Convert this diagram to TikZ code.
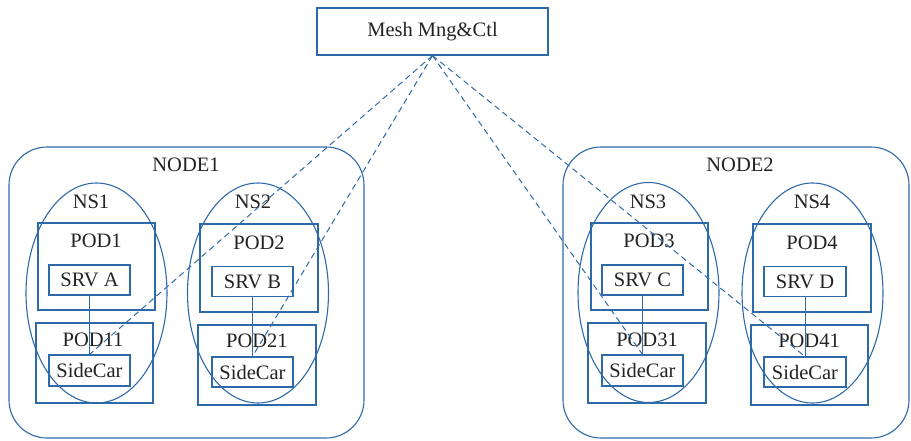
\documentclass[tikz,border=0pt]{standalone}
\usepackage{fontspec}
\setmainfont{Liberation Serif}
\usetikzlibrary{shapes.geometric}
\definecolor{lineblue}{RGB}{46,106,170}
\definecolor{txt}{RGB}{35,35,35}
\begin{document}
\begin{tikzpicture}[x=1pt,y=-1pt,
  every node/.style={text=txt, font=\fontsize{20.5}{23}\selectfont},
  frame/.style={draw=lineblue, line width=1.1pt, rectangle, inner sep=0pt},
  hostbox/.style={frame, rounded corners=38pt, minimum width=#1, minimum height=291pt},
  nsell/.style={draw=lineblue, line width=1.1pt, ellipse, inner sep=0pt, minimum width=141pt, minimum height=220pt},
  podbox/.style={frame, minimum width=117pt, minimum height=#1},
  srvbox/.style={frame, minimum width=81pt, minimum height=30pt},
  lbl/.style={inner sep=0pt, anchor=center},
  link/.style={draw=lineblue, line width=1pt},
  dlink/.style={draw=lineblue, line width=1pt, dashed, dash pattern=on 6pt off 4pt}
]
\useasboundingbox (0,0) rectangle (911,440);

% top
\node[frame, minimum width=231pt, minimum height=47pt] (mesh) at (432.5,31.5) {Mesh Mng\&Ctl};

% hosts
\node[hostbox=355pt] (node1) at (186.5,292.5) {};
\node[lbl] (node1l) at (186,165) {NODE1};
\node[hostbox=346pt] (node2) at (736,292.5) {};
\node[lbl] (node2l) at (740,165) {NODE2};

% namespaces
\node[nsell] (ns1) at (96.5,293) {};
\node[lbl] (ns1l) at (91,202) {NS1};
\node[nsell] (ns2) at (258,293) {};
\node[lbl] (ns2l) at (253,202) {NS2};
\node[nsell] (ns3) at (648.5,292.5) {};
\node[lbl] (ns3l) at (648,202) {NS3};
\node[nsell] (ns4) at (812.5,293) {};
\node[lbl] (ns4l) at (812,202) {NS4};

% pods NS1
\node[podbox=87pt] (pod1) at (96.5,266.5) {};
\node[lbl] (pod1l) at (96,241) {POD1};
\node[srvbox] (srva) at (89.5,280) {SRV A};
\node[podbox=80pt] (pod11) at (94.5,363) {};
\node[lbl] (pod11l) at (93,340) {POD11};
\node[srvbox, minimum height=31pt] (sc1) at (89.5,370.5) {SideCar};

% pods NS2
\node[podbox=88pt, minimum width=118pt] (pod2) at (259,268) {};
\node[lbl] (pod2l) at (259,243) {POD2};
\node[srvbox] (srvb) at (252.5,281.5) {SRV B};
\node[podbox=80pt, minimum width=118pt] (pod21) at (257,365) {};
\node[lbl] (pod21l) at (257,341) {POD21};
\node[srvbox] (sc2) at (252.5,372) {SideCar};

% pods NS3
\node[podbox=87pt] (pod3) at (649.5,266.5) {};
\node[lbl] (pod3l) at (649,241) {POD3};
\node[srvbox] (srvc) at (642.5,280) {SRV C};
\node[podbox=80pt, minimum width=118pt] (pod31) at (647,363) {};
\node[lbl] (pod31l) at (647,340) {POD31};
\node[srvbox, minimum height=31pt] (sc3) at (642.5,370.5) {SideCar};

% pods NS4
\node[podbox=88pt, minimum width=118pt] (pod4) at (812,268) {};
\node[lbl] (pod4l) at (812,243) {POD4};
\node[srvbox, minimum width=82pt] (srvd) at (805,281.5) {SRV D};
\node[podbox=80pt] (pod41) at (809.5,365) {};
\node[lbl] (pod41l) at (809,341) {POD41};
\node[srvbox, minimum width=82pt] (sc4) at (805,372) {SideCar};

% service to sidecar
\draw[link] (srva.south) -- (sc1.north);
\draw[link] (srvb.south) -- (sc2.north);
\draw[link] (srvc.south) -- (sc3.north);
\draw[link] (srvd.south) -- (sc4.north);

% control links
\draw[dlink] (mesh.south) -- (sc1.north);
\draw[dlink] (mesh.south) -- (sc2.north);
\draw[dlink] (mesh.south) -- (sc3.north);
\draw[dlink] (mesh.south) -- (sc4.north);
\end{tikzpicture}
\end{document}
